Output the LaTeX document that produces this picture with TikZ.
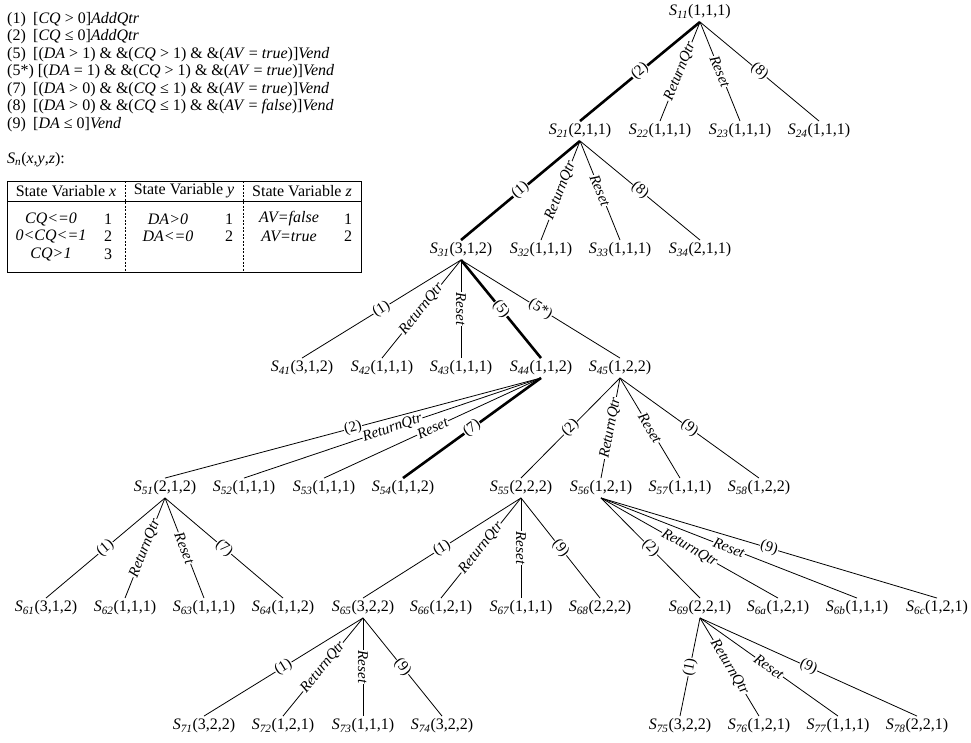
\documentclass[tikz,border=0pt]{standalone}
\usepackage{fontspec}
\setmainfont{Liberation Serif}
% state name: S with an italic subscript, then the tuple
\newcommand\stname[2]{\textit{S}\textsubscript{\textit{#1}}(#2)}
\begin{document}
\begin{tikzpicture}[x=1pt,y=-1pt,
  st/.style={inner sep=2.5pt, font=\fontsize{16}{18}\selectfont},
  edge/.style={line width=0.8pt},
  hot/.style={line width=2.6pt},
  lbl/.style={sloped, midway, fill=white, inner sep=0.6pt, font=\fontsize{15}{15}\selectfont},
  ilbl/.style={lbl, font=\fontsize{15}{15}\selectfont\itshape},
  leg/.style={anchor=base west, inner sep=0pt, font=\fontsize{16}{18}\selectfont},
  cell/.style={inner sep=0pt, font=\fontsize{16}{18}\selectfont},
  rule/.style={line width=0.7pt},
  sep/.style={line width=0.6pt, dash pattern=on 2pt off 1.5pt},
]
\useasboundingbox (0,0) rectangle (971,742);

% ---------- transition legend ----------
\node[leg] (leg1) at (7,23)  {\makebox[26pt][l]{(1)}[\textit{CQ} > 0]\textit{AddQtr}};
\node[leg] (leg2) at (7,40)  {\makebox[26pt][l]{(2)}[\textit{CQ} ≤ 0]\textit{AddQtr}};
\node[leg] (leg3) at (7,58)  {\makebox[26pt][l]{(5)}[(\textit{DA} > 1) \& \&(\textit{CQ} > 1) \& \&(\textit{AV} = \textit{true})]\textit{Vend}};
\node[leg] (leg4) at (7,75)  {(5*) [(\textit{DA} = 1) \& \&(\textit{CQ} > 1) \& \&(\textit{AV} = \textit{true})]\textit{Vend}};
\node[leg] (leg5) at (7,93)  {\makebox[26pt][l]{(7)}[(\textit{DA} > 0) \& \&(\textit{CQ} ≤ 1) \& \&(\textit{AV} = \textit{true})]\textit{Vend}};
\node[leg] (leg6) at (7,110) {\makebox[26pt][l]{(8)}[(\textit{DA} > 0) \& \&(\textit{CQ} ≤ 1) \& \&(\textit{AV} = \textit{false})]\textit{Vend}};
\node[leg] (leg7) at (7,128) {\makebox[26pt][l]{(9)}[\textit{DA} ≤ 0]\textit{Vend}};

\node[leg] (snlabel) at (7,163) {\textit{S}\textsubscript{\textit{n}}(\textit{x},\textit{y},\textit{z}):};

% ---------- state variable table ----------
\draw[rule] (7,181) rectangle (361,272);
\draw[rule] (7,201) -- (361,201);
\draw[sep] (125,181) -- (125,272);
\draw[sep] (243,181) -- (243,272);
\node[cell] (hx) at (66,191)  {State Variable \textit{x}};
\node[cell] (hy) at (184,191) {State Variable \textit{y}};
\node[cell] (hz) at (302,191) {State Variable \textit{z}};
\node[cell] (x1) at (51,219)  {\textit{CQ<=0}};
\node[cell] (x2) at (51,236)  {\textit{0<CQ<=1}};
\node[cell] (x3) at (51,254)  {\textit{CQ>1}};
\node[cell] (vx1) at (108,219) {1};
\node[cell] (vx2) at (108,236) {2};
\node[cell] (vx3) at (108,254) {3};
\node[cell] (y1) at (168,219) {\textit{DA>0}};
\node[cell] (y2) at (168,236) {\textit{DA<=0}};
\node[cell] (vy1) at (229,219) {1};
\node[cell] (vy2) at (229,236) {2};
\node[cell] (z1) at (289,219) {\textit{AV=false}};
\node[cell] (z2) at (289,236) {\textit{AV=true}};
\node[cell] (vz1) at (348,219) {1};
\node[cell] (vz2) at (348,236) {2};

% ---------- state tree ----------
\node[st] (s11) at (700,12)  {\stname{11}{1,1,1}};

\node[st] (s21) at (580,131) {\stname{21}{2,1,1}};
\node[st] (s22) at (660,131) {\stname{22}{1,1,1}};
\node[st] (s23) at (740,131) {\stname{23}{1,1,1}};
\node[st] (s24) at (819,131) {\stname{24}{1,1,1}};

\node[st] (s31) at (461,250) {\stname{31}{3,1,2}};
\node[st] (s32) at (541,250) {\stname{32}{1,1,1}};
\node[st] (s33) at (620,250) {\stname{33}{1,1,1}};
\node[st] (s34) at (700,250) {\stname{34}{2,1,1}};

\node[st] (s41) at (302,368) {\stname{41}{3,1,2}};
\node[st] (s42) at (382,368) {\stname{42}{1,1,1}};
\node[st] (s43) at (461,368) {\stname{43}{1,1,1}};
\node[st] (s44) at (541,368) {\stname{44}{1,1,2}};
\node[st] (s45) at (620,368) {\stname{45}{1,2,2}};

\node[st] (s51) at (165,488) {\stname{51}{2,1,2}};
\node[st] (s52) at (244,488) {\stname{52}{1,1,1}};
\node[st] (s53) at (324,488) {\stname{53}{1,1,1}};
\node[st] (s54) at (403,488) {\stname{54}{1,1,2}};
\node[st] (s55) at (521,488) {\stname{55}{2,2,2}};
\node[st] (s56) at (601,488) {\stname{56}{1,2,1}};
\node[st] (s57) at (680,488) {\stname{57}{1,1,1}};
\node[st] (s58) at (759,488) {\stname{58}{1,2,2}};

\node[st] (s61) at (46,608)  {\stname{61}{3,1,2}};
\node[st] (s62) at (125,608) {\stname{62}{1,1,1}};
\node[st] (s63) at (204,608) {\stname{63}{1,1,1}};
\node[st] (s64) at (283,608) {\stname{64}{1,1,2}};
\node[st] (s65) at (363,608) {\stname{65}{3,2,2}};
\node[st] (s66) at (441,608) {\stname{66}{1,2,1}};
\node[st] (s67) at (521,608) {\stname{67}{1,1,1}};
\node[st] (s68) at (600,608) {\stname{68}{2,2,2}};
\node[st] (s69) at (700,608) {\stname{69}{2,2,1}};
\node[st] (s6a) at (778,608) {\stname{6a}{1,2,1}};
\node[st] (s6b) at (857,608) {\stname{6b}{1,1,1}};
\node[st] (s6c) at (937,608) {\stname{6c}{1,2,1}};

\node[st] (s71) at (204,726) {\stname{71}{3,2,2}};
\node[st] (s72) at (283,726) {\stname{72}{1,2,1}};
\node[st] (s73) at (363,726) {\stname{73}{1,1,1}};
\node[st] (s74) at (442,726) {\stname{74}{3,2,2}};
\node[st] (s75) at (680,726) {\stname{75}{3,2,2}};
\node[st] (s76) at (759,726) {\stname{76}{1,2,1}};
\node[st] (s77) at (838,726) {\stname{77}{1,1,1}};
\node[st] (s78) at (917,726) {\stname{78}{2,2,1}};

% ---------- transitions ----------
\draw[hot]  (s11.south) -- node[lbl]{(2)} (s21.north);
\draw[edge] (s11.south) -- node[ilbl]{ReturnQtr} (s22.north);
\draw[edge] (s11.south) -- node[ilbl]{Reset} (s23.north);
\draw[edge] (s11.south) -- node[lbl]{(8)} (s24.north);

\draw[hot]  (s21.south) -- node[lbl]{(1)} (s31.north);
\draw[edge] (s21.south) -- node[ilbl]{ReturnQtr} (s32.north);
\draw[edge] (s21.south) -- node[ilbl]{Reset} (s33.north);
\draw[edge] (s21.south) -- node[lbl]{(8)} (s34.north);

\draw[edge] (s31.south) -- node[lbl]{(1)} (s41.north);
\draw[edge] (s31.south) -- node[ilbl]{ReturnQtr} (s42.north);
\draw[edge] (s31.south) -- node[ilbl]{Reset} (s43.north);
\draw[hot]  (s31.south) -- node[lbl]{(5)} (s44.north);
\draw[edge] (s31.south) -- node[lbl]{(5*)} (s45.north);

\draw[edge] (s44.south) -- node[lbl]{(2)} (s51.north);
\draw[edge] (s44.south) -- node[ilbl]{ReturnQtr} (s52.north);
\draw[edge] (s44.south) -- node[ilbl]{Reset} (s53.north);
\draw[hot]  (s44.south) -- node[lbl]{(7)} (s54.north);

\draw[edge] (s45.south) -- node[lbl]{(2)} (s55.north);
\draw[edge] (s45.south) -- node[ilbl]{ReturnQtr} (s56.north);
\draw[edge] (s45.south) -- node[ilbl]{Reset} (s57.north);
\draw[edge] (s45.south) -- node[lbl]{(9)} (s58.north);

\draw[edge] (s51.south) -- node[lbl]{(1)} (s61.north);
\draw[edge] (s51.south) -- node[ilbl]{ReturnQtr} (s62.north);
\draw[edge] (s51.south) -- node[ilbl]{Reset} (s63.north);
\draw[edge] (s51.south) -- node[lbl]{(7)} (s64.north);

\draw[edge] (s55.south) -- node[lbl]{(1)} (s65.north);
\draw[edge] (s55.south) -- node[ilbl]{ReturnQtr} (s66.north);
\draw[edge] (s55.south) -- node[ilbl]{Reset} (s67.north);
\draw[edge] (s55.south) -- node[lbl]{(9)} (s68.north);

\draw[edge] (s56.south) -- node[lbl]{(2)} (s69.north);
\draw[edge] (s56.south) -- node[ilbl]{ReturnQtr} (s6a.north);
\draw[edge] (s56.south) -- node[ilbl]{Reset} (s6b.north);
\draw[edge] (s56.south) -- node[lbl]{(9)} (s6c.north);

\draw[edge] (s65.south) -- node[lbl]{(1)} (s71.north);
\draw[edge] (s65.south) -- node[ilbl]{ReturnQtr} (s72.north);
\draw[edge] (s65.south) -- node[ilbl]{Reset} (s73.north);
\draw[edge] (s65.south) -- node[lbl]{(9)} (s74.north);

\draw[edge] (s69.south) -- node[lbl]{(1)} (s75.north);
\draw[edge] (s69.south) -- node[ilbl]{ReturnQtr} (s76.north);
\draw[edge] (s69.south) -- node[ilbl]{Reset} (s77.north);
\draw[edge] (s69.south) -- node[lbl]{(9)} (s78.north);
\end{tikzpicture}
\end{document}
